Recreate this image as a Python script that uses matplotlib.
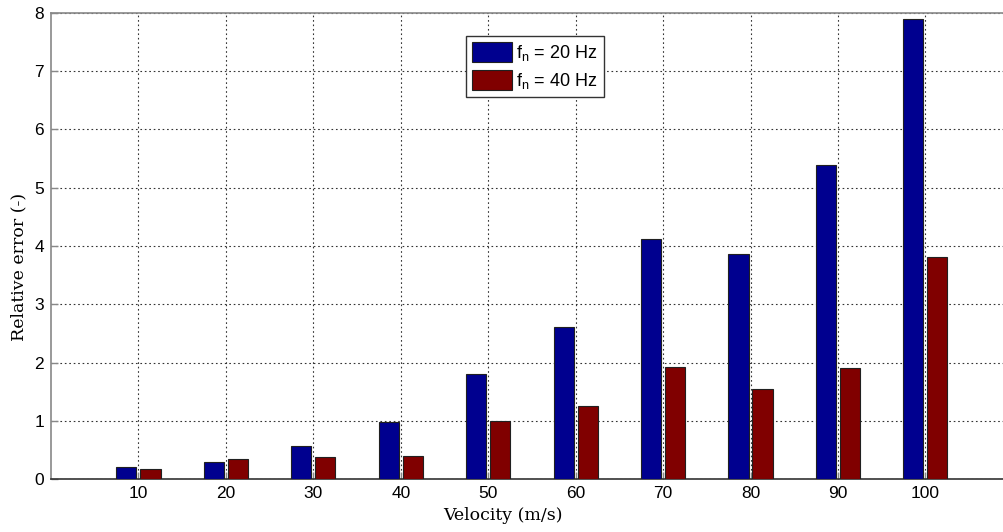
import numpy as np
import matplotlib
matplotlib.use("Agg")
import matplotlib.pyplot as plt

# relative error per velocity for two natural frequencies
velocity = [10, 20, 30, 40, 50, 60, 70, 80, 90, 100]
err_20hz = [0.21, 0.30, 0.57, 0.98, 1.80, 2.61, 4.12, 3.86, 5.39, 7.89]
err_40hz = [0.18, 0.34, 0.37, 0.39, 0.99, 1.26, 1.93, 1.55, 1.91, 3.81]
labels = ["f$_\\mathregular{n}$ = 20 Hz", "f$_\\mathregular{n}$ = 40 Hz"]

plt.rcParams['font.family'] = ['Liberation Sans', 'DejaVu Sans']
plt.rcParams['mathtext.fontset'] = 'custom'
plt.rcParams['mathtext.rm'] = 'Liberation Sans'

fig = plt.figure(figsize=(10.04, 5.32), dpi=100)
ax = fig.add_axes([0.0508, 0.0996, 0.958, 0.876])

x = np.array(velocity, dtype=float)
w = 2.3
off = 1.375
ax.bar(x - off, err_20hz, width=w, color='#00008f', edgecolor='#202020',
       linewidth=0.8, label=labels[0], zorder=3)
ax.bar(x + off, err_40hz, width=w, color='#800000', edgecolor='#202020',
       linewidth=0.8, label=labels[1], zorder=3)

ax.set_xlim(0, 110)
ax.set_ylim(0, 8)
ax.set_xticks(velocity)
ax.set_yticks(range(0, 9))

ax.grid(True, linestyle=(0, (1.5, 2.5)), color='#333333', linewidth=0.8, zorder=0)
ax.tick_params(direction='in', length=5, color='#888888', labelsize=12.5,
               width=1.0, pad=5)
for s in ax.spines.values():
    s.set_color('#888888')
    s.set_linewidth(1.2)
ax.spines['bottom'].set_color('#333333')
ax.spines['right'].set_visible(False)

serif = ['DejaVu Serif']
ax.set_xlabel("Velocity (m/s)", family=serif, fontsize=12.5)
ax.set_ylabel("Relative error (-)", family=serif, fontsize=12.5)
ax.xaxis.set_label_coords(0.47, -0.06)
ax.yaxis.set_label_coords(-0.025, 0.455)

leg = ax.legend(loc='upper left', bbox_to_anchor=(0.431, 0.951), fontsize=13,
                fancybox=False, edgecolor='#333333', framealpha=1,
                handlelength=2.2, handleheight=1.3, handletextpad=0.25,
                borderpad=0.35, labelspacing=0.4, borderaxespad=0)
leg.get_frame().set_linewidth(1.0)

fig.savefig("out.png", dpi=100)
